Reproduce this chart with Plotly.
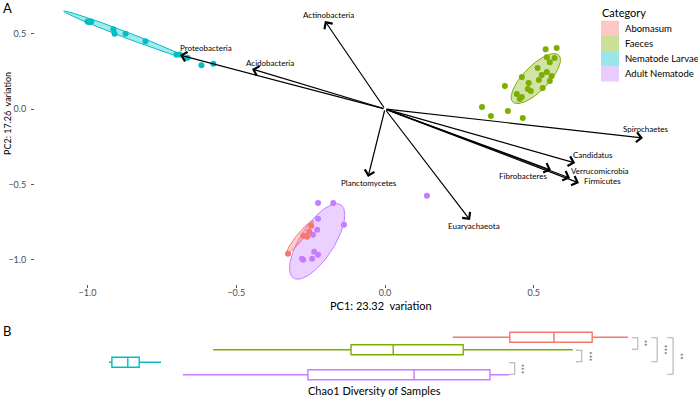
import numpy as np
import plotly.graph_objects as go

# ---------------- DATA ----------------
categories = ["Abomasum", "Faeces", "Nematode Larvae", "Adult Nematode"]
colors = ["#F8766D", "#7CAE00", "#00BFC4", "#C77CFF"]

# PCA sample scores (PC1, PC2)
abomasum_pc1 = [-0.326, -0.275, -0.262, -0.255, -0.248]
abomasum_pc2 = [-0.960, -0.841, -0.848, -0.815, -0.775]

faeces_pc1 = [0.540, 0.577, 0.544, 0.570, 0.554, 0.513, 0.544, 0.527, 0.560, 0.517, 0.554,
              0.460, 0.483, 0.480, 0.490, 0.530, 0.443, 0.460, 0.453, 0.403, 0.326, 0.356,
              0.413, 0.463]
faeces_pc2 = [0.397, 0.404, 0.344, 0.338, 0.311, 0.272, 0.245, 0.225, 0.219, 0.192, 0.185,
              0.212, 0.172, 0.132, 0.119, 0.139, 0.099, 0.079, 0.066, 0.152, 0.013, -0.046,
              -0.013, -0.060]

larvae_pc1 = [-1.000, -0.987, -0.995, -0.913, -0.909, -0.872, -0.805, -0.701, -0.690, -0.664, -0.617, -0.577]
larvae_pc2 = [0.580, 0.580, 0.575, 0.530, 0.500, 0.500, 0.450, 0.360, 0.362, 0.340, 0.290, 0.300]

adult_pc1 = [-0.225, -0.174, -0.225, -0.138, -0.228, -0.242, -0.238, -0.225, -0.245, -0.275, -0.279, 0.141]
adult_pc2 = [-0.623, -0.623, -0.728, -0.768, -0.801, -0.834, -0.947, -0.967, -0.993, -1.000, -0.993, -0.576]

scores_pc1 = [abomasum_pc1, faeces_pc1, larvae_pc1, adult_pc1]
scores_pc2 = [abomasum_pc2, faeces_pc2, larvae_pc2, adult_pc2]

# Group ellipses: centre, major semi-axis vector, minor semi-axis vector (PC units)
ellipse_cx = [-0.285, 0.507, -0.872, -0.228]
ellipse_cy = [-0.848, 0.202, 0.493, -0.879]
ellipse_ax = [0.0436, 0.0772, -0.208, 0.0795]
ellipse_ay = [0.106, 0.1556, 0.156, 0.243]
ellipse_bx = [0.0091, 0.030, 0.0036, 0.048]
ellipse_by = [-0.0146, -0.058, 0.0186, -0.061]

# Loadings (arrow tips)
taxa = ["Actinobacteria", "Acidobacteria", "Proteobacteria", "Spirochaetes", "Candidatus",
        "Verrucomicrobia", "Firmicutes", "Fibrobacteres", "Planctomycetes", "Euaryachaeota"]
load_pc1 = [-0.202, -0.447, -0.689, 0.867, 0.639, 0.622, 0.652, 0.558, -0.057, 0.286]
load_pc2 = [0.584, 0.265, 0.358, -0.192, -0.358, -0.458, -0.491, -0.405, -0.451, -0.737]

# Chao1 diversity box statistics (same order as categories)
chao_lower = [1042, 559, 349, 498]
chao_q1 = [1157, 837, 355, 750]
chao_median = [1246, 922, 387, 964]
chao_q3 = [1323, 1063, 410, 1117]
chao_upper = [1395, 1284, 454, 1155]

# Significance comparisons
comp_a = ["Abomasum", "Abomasum", "Abomasum", "Faeces", "Nematode Larvae"]
comp_b = ["Faeces", "Nematode Larvae", "Adult Nematode", "Nematode Larvae", "Adult Nematode"]
comp_x = [1415, 1454, 1486, 1302, 1167]
comp_label = ["**", "***", "**", "***", "***"]

# ---------------- STYLE ----------------
W, H = 698, 403
FONT = "Lato"
label_offsets = {  # (dx, dy) in px, dy positive = down
    "Actinobacteria": (4, -6), "Acidobacteria": (18, -6), "Proteobacteria": (26, -7),
    "Spirochaetes": (3, -9), "Candidatus": (18, -8), "Verrucomicrobia": (30, -7),
    "Firmicutes": (24, -2), "Fibrobacteres": (-28, 6), "Planctomycetes": (1, 6),
    "Euaryachaeota": (4, 6),
}


def rgba(hexc, a):
    h = hexc.lstrip("#")
    r, g, b = int(h[0:2], 16), int(h[2:4], 16), int(h[4:6], 16)
    return f"rgba({r},{g},{b},{a})"


fig = go.Figure()

t = np.linspace(0, 2 * np.pi, 120)
draw_order = [3, 0, 1, 2]
for i in draw_order:
    ex = ellipse_cx[i] + ellipse_ax[i] * np.cos(t) + ellipse_bx[i] * np.sin(t)
    ey = ellipse_cy[i] + ellipse_ay[i] * np.cos(t) + ellipse_by[i] * np.sin(t)
    fig.add_trace(go.Scatter(x=ex, y=ey, mode="lines", fill="toself",
                             fillcolor=rgba(colors[i], 0.35),
                             line=dict(color=colors[i], width=1),
                             showlegend=False, hoverinfo="skip", xaxis="x", yaxis="y"))
for i in draw_order:
    fig.add_trace(go.Scatter(x=scores_pc1[i], y=scores_pc2[i], mode="markers",
                             marker=dict(color=colors[i], size=6),
                             showlegend=False, name=categories[i], xaxis="x", yaxis="y"))

annotations = []
for name, px_, py_ in zip(taxa, load_pc1, load_pc2):
    annotations.append(dict(x=px_, y=py_, ax=0, ay=0, xref="x", yref="y", axref="x", ayref="y",
                            text="", showarrow=True, arrowhead=4, arrowsize=1.6,
                            arrowwidth=1.2, arrowcolor="black", standoff=0))
    dx, dy = label_offsets[name]
    annotations.append(dict(x=px_, y=py_, xref="x", yref="y", text=name, showarrow=False,
                            xanchor="center", yanchor="middle",
                            xshift=dx, yshift=-dy, font=dict(size=8, color="black", family=FONT)))

# Box plots
for i, cat in enumerate(categories):
    fig.add_trace(go.Box(y=[cat], q1=[chao_q1[i]], median=[chao_median[i]], q3=[chao_q3[i]],
                         lowerfence=[chao_lower[i]], upperfence=[chao_upper[i]],
                         orientation="h", fillcolor="white", line=dict(color=colors[i], width=1.4),
                         whiskerwidth=0, width=0.8, boxpoints=False, showlegend=False,
                         xaxis="x2", yaxis="y2"))

shapes = []
cat_idx = {c: k for k, c in enumerate(categories)}
for a, b, xb, lab in zip(comp_a, comp_b, comp_x, comp_label):
    ya, yb = cat_idx[a], cat_idx[b]
    y0, y1 = ya + 0.04, yb - 0.04
    shapes.append(dict(type="path", xref="x2", yref="y2",
                       path=f"M {xb - 12},{y0} L {xb},{y0} L {xb},{y1} L {xb - 12},{y1}",
                       line=dict(color="#AAAAAA", width=1)))
    annotations.append(dict(x=xb, y=(y0 + y1) / 2, xref="x2", yref="y2", text=lab,
                            showarrow=False, textangle=90, xshift=7,
                            xanchor="center", yanchor="middle",
                            font=dict(size=8, color="#555555", family=FONT)))

# Manual legend
leg_top = 20.7
leg_h = 15.2
annotations.append(dict(x=600 / W, y=1 - 13 / H, xref="paper", yref="paper", text="Category",
                        showarrow=False, xanchor="left", yanchor="middle",
                        font=dict(size=11, color="black", family=FONT)))
for k, cat in enumerate(categories):
    y0 = leg_top + k * leg_h
    shapes.append(dict(type="rect", xref="paper", yref="paper",
                       x0=601 / W, x1=619 / W, y0=1 - y0 / H, y1=1 - (y0 + leg_h) / H,
                       fillcolor=rgba(colors[k], 0.4), line=dict(width=0)))
    annotations.append(dict(x=623 / W, y=1 - (y0 + leg_h / 2) / H, xref="paper", yref="paper",
                            text=cat, showarrow=False, xanchor="left", yanchor="middle",
                            font=dict(size=9.5, color="black", family=FONT)))

# Axis titles & panel letters
annotations += [
    dict(x=381 / W, y=1 - 305 / H, xref="paper", yref="paper", text="PC1: 23.32\u00a0 variation",
         xanchor="center", yanchor="middle",
         showarrow=False, font=dict(size=11, color="black", family=FONT)),
    dict(x=7 / W, y=1 - 114 / H, xref="paper", yref="paper", text="PC2: 17.26\u00a0 variation",
         xanchor="center", yanchor="middle",
         showarrow=False, textangle=-90, font=dict(size=9, color="black", family=FONT)),
    dict(x=374 / W, y=1 - 390 / H, xref="paper", yref="paper", text="Chao1 Diversity of Samples",
         xanchor="center", yanchor="middle",
         showarrow=False, font=dict(size=11, color="black", family=FONT)),
    dict(x=1 / W, y=1 - 8 / H, xref="paper", yref="paper", text="A", xanchor="left",
         yanchor="middle", showarrow=False, font=dict(size=13, color="black", family=FONT)),
    dict(x=1 / W, y=1 - 331 / H, xref="paper", yref="paper", text="B", xanchor="left",
         yanchor="middle", showarrow=False, font=dict(size=13, color="black", family=FONT)),
]

XS, YS = 297.5, 150.7
fig.update_layout(
    width=W, height=H, margin=dict(l=0, r=0, t=0, b=0),
    paper_bgcolor="white", plot_bgcolor="rgba(0,0,0,0)",
    font=dict(family=FONT),
    showlegend=False, boxmode="overlay",
    xaxis=dict(domain=[35 / W, 1], range=[(35 - 385) / XS, (698 - 385) / XS],
               tickvals=[-1, -0.5, 0, 0.5], ticktext=["\u22121.0", "\u22120.5", "0.0", "0.5"],
               ticks="outside", ticklen=3, tickcolor="#555555", ticklabelstandoff=-3,
               tickfont=dict(size=9, color="#4d4d4d"), showgrid=False, zeroline=False,
               showline=False, fixedrange=True),
    yaxis=dict(domain=[(H - 284) / H, (H - 2) / H], range=[(109 - 284) / YS, (109 - 2) / YS],
               tickvals=[-1, -0.5, 0, 0.5], ticktext=["\u22121.0", "\u22120.5", "0.0", "0.5"],
               ticks="outside", ticklen=3, tickcolor="#555555", ticklabelstandoff=3,
               tickfont=dict(size=9, color="#4d4d4d"), showgrid=False, zeroline=False,
               showline=False, fixedrange=True),
    xaxis2=dict(domain=[35 / W, 1], range=[200, 200 + 663 * 2.0155], visible=False,
                anchor="y2"),
    yaxis2=dict(domain=[(H - 381) / H, (H - 331) / H], type="category",
                categoryorder="array", categoryarray=categories, range=[3.5, -0.5],
                visible=False, anchor="x2"),
    shapes=shapes, annotations=annotations,
)

fig.write_html("out.html", config={"displayModeBar": False},
               post_script="document.body.style.margin='0';document.body.style.overflow='hidden';")
